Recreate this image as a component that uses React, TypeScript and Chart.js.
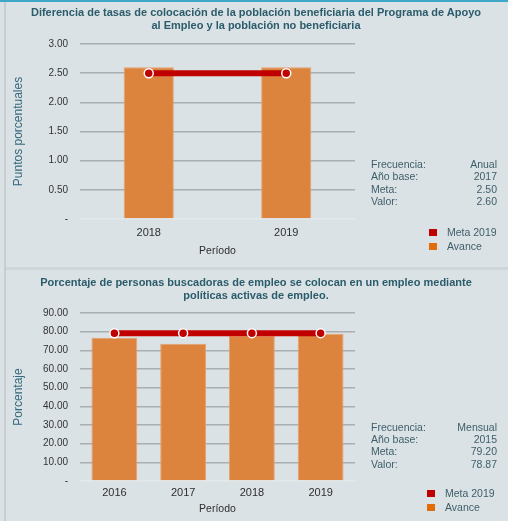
import React, { useEffect, useRef } from 'react';
import { Chart, registerables } from 'chart.js';

Chart.register(...registerables);

// ---------- data ----------
const years1 = ['2018', '2019'];
const avance1 = [2.6, 2.6];
const meta1 = [2.5, 2.5];
const yTicks1Max = 3;
const yTicks1Step = 0.5;
const infoLabels = ['Frecuencia:', 'Año base:', 'Meta:', 'Valor:'];
const info1Values = ['Anual', '2017', '2.50', '2.60'];
const title1 = [
  'Diferencia de tasas de colocación de la población beneficiaria del Programa de Apoyo',
  'al Empleo y la población no beneficiaria',
];

const years2 = ['2016', '2017', '2018', '2019'];
const avance2 = [76.8, 73.5, 77.7, 78.87];
const meta2 = [79.2, 79.2, 79.2, 79.2];
const yTicks2Max = 90;
const yTicks2Step = 10;
const info2Values = ['Mensual', '2015', '79.20', '78.87'];
const title2 = [
  'Porcentaje de personas buscadoras de empleo se colocan en un empleo mediante',
  'políticas activas de empleo.',
];

const legendLabels = ['Meta 2019', 'Avance'];

// ---------- styles ----------
const FONT = '"Liberation Sans", Arial, sans-serif';
const BG = '#dbe2e5';
const RED = '#c00000';
const BAR = '#dc843e';
const BAR_EDGE = '#e7a06c';
const LEG_ORANGE = '#e36c0a';
const TEAL = '#33697c';
const TITLE = '#2b5c6b';
const INFO = '#3e5e6a';

Chart.defaults.font.family = FONT;

type Cfg = {
  labels: string[];
  avance: number[];
  meta: number[];
  max: number;
  step: number;
  yTitle: string;
  padTop: number;
  xAxisHeight: number;
  xTickPad: number;
  xTitlePad: number;
  barPct: number;
};

function makeChart(canvas: HTMLCanvasElement, c: Cfg) {
  return new Chart(canvas, {
    type: 'bar',
    data: {
      labels: c.labels,
      datasets: [
        {
          type: 'line',
          label: legendLabels[0],
          data: c.meta,
          borderColor: RED,
          backgroundColor: RED,
          borderWidth: 6,
          pointRadius: 4.5,
          pointBackgroundColor: RED,
          pointBorderColor: '#ffffff',
          pointBorderWidth: 1.5,
          order: 0,
        } as any,
        {
          type: 'bar',
          label: legendLabels[1],
          data: c.avance,
          backgroundColor: BAR,
          borderColor: BAR_EDGE,
          borderWidth: 1,
          barPercentage: c.barPct,
          categoryPercentage: 1,
          order: 1,
        } as any,
      ],
    },
    options: {
      responsive: false,
      animation: false,
      devicePixelRatio: 1,
      layout: { padding: { top: c.padTop, right: 153, left: 0, bottom: 0 } },
      plugins: {
        legend: { display: false },
        title: { display: false },
        tooltip: { enabled: false },
      },
      scales: {
        x: {
          grid: { display: false, drawTicks: false },
          border: { display: false },
          ticks: { padding: c.xTickPad, color: '#2e2e2e', font: { size: 11 } },
          title: {
            display: true,
            text: 'Período',
            color: '#2e2e2e',
            font: { size: 10.5 },
            padding: { top: 0, bottom: c.xTitlePad },
          },
          afterFit: (s: any) => {
            s.height = c.xAxisHeight;
          },
        },
        y: {
          min: 0,
          max: c.max,
          ticks: {
            stepSize: c.step,
            padding: 12,
            color: '#333333',
            font: { size: 10 },
            callback: (v: any) => (Number(v) === 0 ? '-' : Number(v).toFixed(2)),
          },
          grid: {
            drawTicks: false,
            color: (ctx: any) => (ctx.tick && ctx.tick.value === 0 ? '#e4e9eb' : '#a9aeb1'),
            lineWidth: 1.5,
          },
          border: { display: false },
          title: {
            display: true,
            text: c.yTitle,
            color: TEAL,
            font: { size: 12 },
            padding: { top: 11, bottom: 0 },
          },
          afterFit: (s: any) => {
            s.width = 80;
          },
        },
      },
    } as any,
  });
}

function Info({ top, lh, values }: { top: number; lh: number; values: string[] }) {
  return (
    <div style={{ position: 'absolute', left: 371, top, width: 126, fontSize: 10.5, lineHeight: lh + 'px', color: INFO }}>
      {infoLabels.map((l, i) => (
        <div key={l} style={{ display: 'flex', justifyContent: 'space-between', whiteSpace: 'nowrap' }}>
          <span>{l}</span>
          <span>{values[i]}</span>
        </div>
      ))}
    </div>
  );
}

function Legend({ left, top }: { left: number; top: number }) {
  const colors = [RED, LEG_ORANGE];
  return (
    <>
      {legendLabels.map((l, i) => (
        <React.Fragment key={l}>
          <div style={{ position: 'absolute', left, top: top + i * 14, width: 8, height: 7, background: colors[i] }} />
          <div style={{ position: 'absolute', left: left + 18, top: top + i * 14 - 3, fontSize: 10.5, lineHeight: '13px', color: INFO, whiteSpace: 'nowrap' }}>{l}</div>
        </React.Fragment>
      ))}
    </>
  );
}

function Title({ top, lines }: { top: number; lines: string[] }) {
  return (
    <div style={{ position: 'absolute', left: 4, top, width: 504, textAlign: 'center', fontSize: 11, fontWeight: 'bold', lineHeight: '13px', color: TITLE }}>
      {lines.map((l) => (
        <div key={l} style={{ whiteSpace: 'nowrap' }}>{l}</div>
      ))}
    </div>
  );
}

export default function App() {
  const c1 = useRef<HTMLCanvasElement>(null);
  const c2 = useRef<HTMLCanvasElement>(null);

  useEffect(() => {
    const ch1 = makeChart(c1.current!, {
      labels: years1,
      avance: avance1,
      meta: meta1,
      max: yTicks1Max,
      step: yTicks1Step,
      yTitle: 'Puntos porcentuales',
      padTop: 44,
      xAxisHeight: 46,
      xTickPad: 7,
      xTitlePad: 8,
      barPct: 0.365,
    });
    const ch2 = makeChart(c2.current!, {
      labels: years2,
      avance: avance2,
      meta: meta2,
      max: yTicks2Max,
      step: yTicks2Step,
      yTitle: 'Porcentaje',
      padTop: 43,
      xAxisHeight: 40,
      xTickPad: 5,
      xTitlePad: 6,
      barPct: 0.667,
    });
    return () => {
      ch1.destroy();
      ch2.destroy();
    };
  }, []);

  return (
    <div style={{ position: 'absolute', left: 0, top: 0, width: 508, height: 521, background: BG, overflow: 'hidden', fontFamily: FONT }}>
      <div style={{ position: 'absolute', left: 0, top: 0, width: 508, height: 2, background: '#3fa8c8' }} />
      <div style={{ position: 'absolute', left: 4, top: 2, width: 2, height: 519, background: '#c6ced1' }} />
      <div style={{ position: 'absolute', left: 6, top: 267, width: 502, height: 3, background: '#cfd6d9' }} />
      <canvas ref={c1} width={508} height={265} style={{ position: 'absolute', left: 0, top: 0 }} />
      <canvas ref={c2} width={508} height={251} style={{ position: 'absolute', left: 0, top: 270 }} />
      <Title top={5.5} lines={title1} />
      <Title top={276} lines={title2} />
      <Info top={157.75} lh={12.5} values={info1Values} />
      <Info top={421} lh={12.2} values={info2Values} />
      <Legend left={429} top={229} />
      <Legend left={427} top={490} />
    </div>
  );
}
